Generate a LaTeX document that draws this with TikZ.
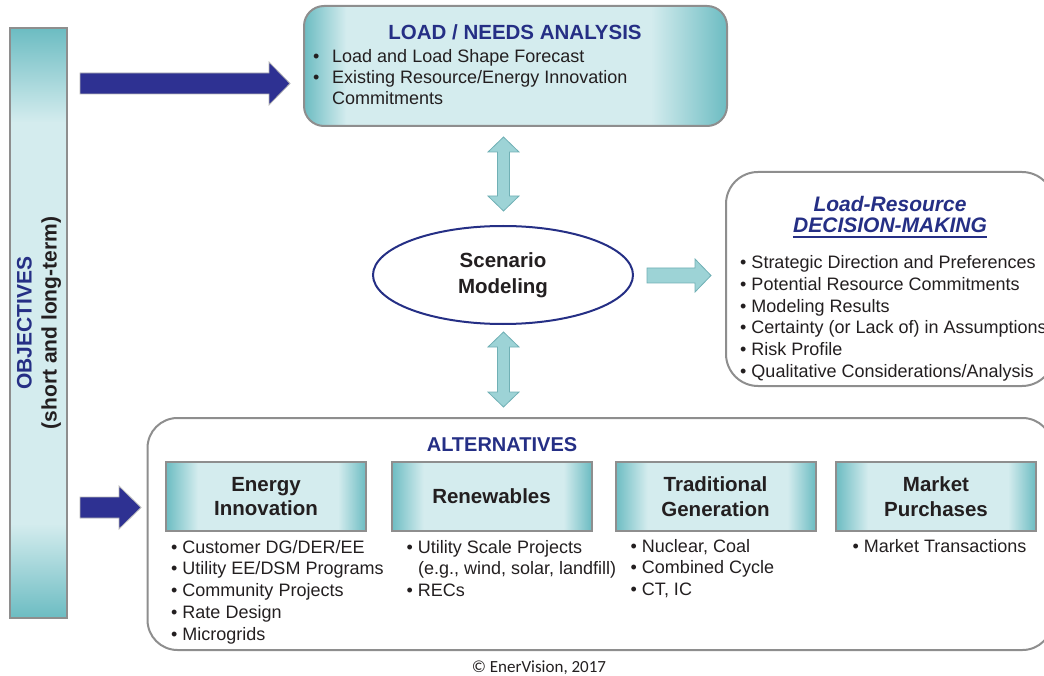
\documentclass[tikz,border=0pt]{standalone}
\usepackage{fontspec}
\setmainfont{Liberation Sans}
\newfontfamily\copyfont{Carlito}
\usetikzlibrary{shapes.geometric}

\definecolor{tealdk}{HTML}{6CBCC2}
\definecolor{teallt}{HTML}{D4ECEE}
\definecolor{navy}{HTML}{252F85}
\definecolor{arrowblue}{HTML}{2E3192}
\definecolor{arrowteal}{HTML}{9DD3D6}
\definecolor{rimgray}{HTML}{8E8E8E}
\definecolor{ink}{HTML}{231F20}

\pgfdeclarehorizontalshading{loadshade}{100bp}{color(0bp)=(tealdk); color(25bp)=(tealdk); color(30bp)=(teallt); color(66bp)=(teallt); color(75bp)=(tealdk); color(100bp)=(tealdk)}
\pgfdeclarehorizontalshading{catshade}{100bp}{color(0bp)=(tealdk); color(25bp)=(tealdk); color(33bp)=(teallt); color(68bp)=(teallt); color(75bp)=(tealdk); color(100bp)=(tealdk)}
\pgfdeclareverticalshading{barshade}{100bp}{color(0bp)=(tealdk); color(25bp)=(tealdk); color(33bp)=(teallt); color(67bp)=(teallt); color(75bp)=(tealdk); color(100bp)=(tealdk)}

\newcommand\bodysize{\fontsize{18}{21.7}\selectfont}
\newcommand\headsize{\fontsize{20.5}{24.5}\selectfont}

\begin{document}
\begin{tikzpicture}[x=1pt,y=-1pt,
	box/.style={draw=rimgray,line width=2pt,inner sep=0pt},
	catbox/.style={box,shade,shading=catshade,minimum width=200pt,minimum height=69pt,align=center,font=\headsize\bfseries,text=ink},
	itemlist/.style={anchor=north west,inner sep=0pt,align=left,font=\bodysize,text=ink},
	bluearrow/.style={fill=arrowblue,draw=gray!55,line width=0.8pt},
	tealarrow/.style={fill=arrowteal,draw=tealdk!80!gray,line width=0.8pt}]
	\useasboundingbox (0,0) rectangle (1044,676);

% objectives
	\node[box,shade,shading=barshade,minimum width=57pt,minimum height=590pt] (obj) at (38.5,323) {};
	\node[rotate=90,align=center,font=\fontsize{21}{25}\selectfont\bfseries,text=ink] (objtext) at (39,323) {\textcolor{navy}{OBJECTIVES}\\(short and long-term)};

% load / needs analysis
	\node[box,rounded corners=20pt,shade,shading=loadshade,minimum width=423pt,minimum height=120pt] (load) at (515.5,66) {};
	\node[font=\headsize\bfseries,text=navy,anchor=base,inner sep=0pt] (loadtitle) at (515,40) {LOAD / NEEDS ANALYSIS};
	\node[itemlist,font=\fontsize{18}{21}\selectfont] (loadlist) at (313,49) {\makebox[19pt][l]{\textbullet}Load and Load Shape Forecast\\\makebox[19pt][l]{\textbullet}Existing Resource/Energy Innovation\\\hspace{19pt}Commitments};

% scenario modeling
	\node[ellipse,draw=navy,line width=2pt,fill=white,minimum width=260pt,minimum height=98pt,inner sep=0pt,align=center,font=\fontsize{20.5}{25.5}\selectfont\bfseries,text=ink] (scen) at (503,275) {Scenario\\Modeling};

% decision-making
	\node[box,rounded corners=32pt,fill=white,minimum width=328pt,minimum height=214pt] (decide) at (890,279) {};
	\node[font=\fontsize{21}{25}\selectfont\bfseries\itshape,text=navy,anchor=base,inner sep=0pt] (dtitle) at (890,212) {Load-Resource};
	\node[font=\fontsize{21}{25}\selectfont\bfseries\itshape,text=navy,anchor=base,inner sep=0pt] (dsub) at (890,233) {DECISION-MAKING};
	\draw[navy,line width=1.5pt] ([yshift=-4pt]dsub.base west) -- ([yshift=-4pt]dsub.base east);
	\node[itemlist] (dlist) at (740,255.5) {\textbullet\ Strategic Direction and Preferences\\\textbullet\ Potential Resource Commitments\\\textbullet\ Modeling Results\\\textbullet\ Certainty (or Lack of) in Assumptions\\\textbullet\ Risk Profile\\\textbullet\ Qualitative Considerations/Analysis};

% alternatives
	\node[box,rounded corners=30pt,minimum width=905pt,minimum height=232pt] (alts) at (600,534) {};
	\node[font=\fontsize{20}{24}\selectfont\bfseries,text=navy,anchor=base,inner sep=0pt] (altstitle) at (502,451) {ALTERNATIVES};

	\node[catbox] (ei) at (266,496.5) {Energy\\Innovation};
	\node[catbox] (ren) at (491.5,496.5) {Renewables};
	\node[catbox] (trad) at (715.5,496.5) {Traditional\\Generation};
	\node[catbox] (mkt) at (936,496.5) {Market\\Purchases};

	\node[itemlist] (eilist) at (171,540) {\textbullet\ Customer DG/DER/EE\\\textbullet\ Utility EE/DSM Programs\\\textbullet\ Community Projects\\\textbullet\ Rate Design\\\textbullet\ Microgrids};
	\node[itemlist] (renlist) at (406.5,540) {\textbullet\ Utility Scale Projects\\\phantom{\textbullet\ }(e.g., wind, solar, landfill)\\\textbullet\ RECs};
	\node[itemlist] (tradlist) at (630.5,539) {\textbullet\ Nuclear, Coal\\\textbullet\ Combined Cycle\\\textbullet\ CT, IC};
	\node[itemlist] (mktlist) at (852.5,539) {\textbullet\ Market Transactions};

% arrows
	\draw[bluearrow] (80,73) -- (269,73) -- (269,62) -- (290,83.5) -- (269,105) -- (269,94) -- (80,94) -- cycle;
	\draw[bluearrow] (80,497) -- (119,497) -- (119,486) -- (141,507.5) -- (119,529) -- (119,518) -- (80,518) -- cycle;

	\draw[tealarrow] (503.5,137) -- (519,152) -- (509.5,152) -- (509.5,196) -- (519,196) -- (503.5,211) -- (488,196) -- (497.5,196) -- (497.5,152) -- (488,152) -- cycle;
	\draw[tealarrow] (503.5,332) -- (519,347) -- (509.5,347) -- (509.5,392) -- (519,392) -- (503.5,407) -- (488,392) -- (497.5,392) -- (497.5,347) -- (488,347) -- cycle;
	\draw[tealarrow] (647,268) -- (695,268) -- (695,259) -- (711,275.5) -- (695,292) -- (695,283) -- (647,283) -- cycle;

	\node[font=\copyfont\fontsize{17}{20}\selectfont,text=ink,anchor=base,inner sep=0pt] (copy) at (539,672) {© EnerVision, 2017};
\end{tikzpicture}
\end{document}
